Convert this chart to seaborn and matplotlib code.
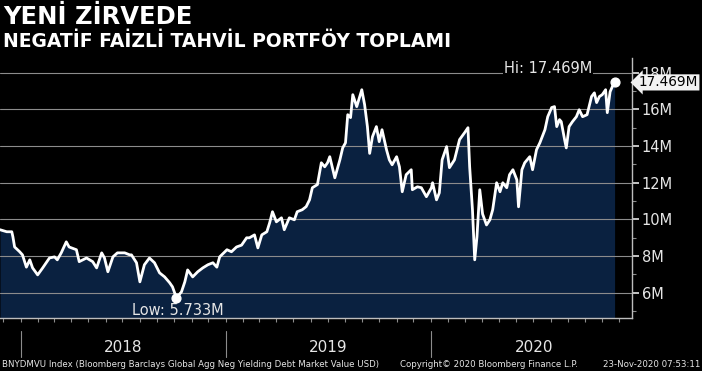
import matplotlib
matplotlib.use("Agg")
import matplotlib.pyplot as plt
import matplotlib.dates as mdates
import matplotlib.transforms as mtransforms
from matplotlib.ticker import FixedLocator, FuncFormatter
import pandas as pd
import seaborn as sns

# values (millions USD)
dates = [
    "2017-11-25", "2017-12-07", "2017-12-16", "2017-12-18", "2017-12-21", "2017-12-30",
    "2018-01-04", "2018-01-11", "2018-01-17", "2018-01-22", "2018-01-31", "2018-02-09",
    "2018-02-21", "2018-03-02", "2018-03-07", "2018-03-14", "2018-03-23", "2018-03-28",
    "2018-04-10", "2018-04-15", "2018-04-28", "2018-05-09", "2018-05-16", "2018-05-25",
    "2018-05-30", "2018-06-05", "2018-06-14", "2018-06-22", "2018-07-05", "2018-07-14",
    "2018-07-17", "2018-07-26", "2018-08-01", "2018-08-09", "2018-08-18", "2018-08-27",
    "2018-09-05", "2018-09-14", "2018-09-23", "2018-09-28", "2018-10-05", "2018-10-14",
    "2018-10-20", "2018-10-25", "2018-11-03", "2018-11-12", "2018-11-21", "2018-11-30",
    "2018-12-09", "2018-12-16", "2018-12-21", "2019-01-03", "2019-01-11", "2019-01-20",
    "2019-01-29", "2019-02-07", "2019-02-12", "2019-02-21", "2019-02-27", "2019-03-06",
    "2019-03-15", "2019-03-20", "2019-03-25", "2019-04-01", "2019-04-10", "2019-04-15",
    "2019-04-24", "2019-05-03", "2019-05-08", "2019-05-17", "2019-05-24", "2019-05-30",
    "2019-06-04", "2019-06-13", "2019-06-20", "2019-06-26", "2019-07-01", "2019-07-05",
    "2019-07-14", "2019-07-23", "2019-07-28", "2019-08-02", "2019-08-06", "2019-08-11",
    "2019-08-15", "2019-08-22", "2019-08-31", "2019-09-05", "2019-09-10", "2019-09-14",
    "2019-09-19", "2019-09-26", "2019-10-01", "2019-10-06", "2019-10-14", "2019-10-19",
    "2019-10-24", "2019-11-01", "2019-11-06", "2019-11-11", "2019-11-18", "2019-11-27",
    "2019-11-29", "2019-12-08", "2019-12-15", "2019-12-24", "2020-01-02", "2020-01-04",
    "2020-01-11", "2020-01-16", "2020-01-21", "2020-01-29", "2020-02-03", "2020-02-12",
    "2020-02-21", "2020-03-01", "2020-03-07", "2020-03-10", "2020-03-15", "2020-03-19",
    "2020-03-23", "2020-03-28", "2020-04-02", "2020-04-09", "2020-04-15", "2020-04-20",
    "2020-04-27", "2020-05-03", "2020-05-08", "2020-05-15", "2020-05-20", "2020-05-26",
    "2020-06-02", "2020-06-05", "2020-06-11", "2020-06-16", "2020-06-25", "2020-06-30",
    "2020-07-07", "2020-07-13", "2020-07-22", "2020-07-27", "2020-08-03", "2020-08-08",
    "2020-08-12", "2020-08-17", "2020-08-20", "2020-08-26", "2020-08-29", "2020-09-03",
    "2020-09-09", "2020-09-16", "2020-09-21", "2020-09-27", "2020-10-05", "2020-10-13",
    "2020-10-18", "2020-10-22", "2020-10-27", "2020-11-01", "2020-11-07", "2020-11-10",
    "2020-11-15", "2020-11-19", "2020-11-23",
]
values = [
    9.44, 9.33, 9.33, 9.05, 8.50, 8.24,
    8.07, 7.40, 7.80, 7.36, 6.98, 7.36,
    7.90, 7.96, 7.80, 8.18, 8.78, 8.50,
    8.35, 7.70, 7.90, 7.70, 7.36, 8.18,
    7.90, 7.15, 7.96, 8.18, 8.18, 8.07,
    8.07, 7.64, 6.60, 7.53, 7.90, 7.64,
    7.09, 6.87, 6.55, 6.33, 5.733, 6.05,
    6.60, 7.25, 6.87, 7.15, 7.36, 7.53,
    7.64, 7.40, 7.96, 8.35, 8.24, 8.50,
    8.60, 9.00, 9.00, 9.16, 8.45, 9.16,
    9.33, 9.82, 10.42, 9.87, 10.09, 9.44,
    10.09, 9.98, 10.42, 10.53, 10.70, 11.07,
    11.73, 11.90, 13.09, 12.87, 13.09, 13.42,
    12.27, 13.25, 13.90, 14.18, 15.71, 15.55,
    16.80, 16.15, 17.07, 16.26, 15.06, 13.60,
    14.51, 15.06, 14.24, 14.89, 13.80, 13.25,
    12.98, 13.42, 12.87, 11.51, 12.44, 12.71,
    11.62, 11.78, 11.73, 11.24, 11.73, 12.00,
    11.07, 11.45, 13.25, 13.97, 12.82, 13.25,
    14.35, 14.73, 15.00, 12.87, 10.53, 7.80,
    9.05, 11.62, 10.30, 9.70, 9.98, 10.53,
    12.00, 11.51, 12.00, 11.73, 12.44, 12.71,
    12.16, 10.69, 12.71, 13.09, 13.42, 12.71,
    13.80, 14.18, 14.89, 15.60, 16.10, 16.15,
    15.06, 15.44, 15.33, 14.35, 13.90, 15.06,
    15.33, 15.60, 15.98, 15.60, 15.71, 16.70,
    16.90, 16.37, 16.70, 16.80, 17.07, 15.82,
    16.96, 17.24, 17.469,
]
years = ["2018", "2019", "2020"]
year_starts = ["2018-01-01", "2019-01-01", "2020-01-01"]
year_mids = ["2018-07-02", "2019-07-02", "2020-07-02"]
y_ticks = [6, 8, 10, 12, 14, 16, 18]

title = "YENİ ZİRVEDE"
subtitle = "NEGATİF FAİZLİ TAHVİL PORTFÖY TOPLAMI"
footer_left = "BNYDMVU Index (Bloomberg Barclays Global Agg Neg Yielding Debt Market Value USD)"
footer_mid = "Copyright© 2020 Bloomberg Finance L.P."
footer_right = "23-Nov-2020 07:53:11"

navy = "#0a2140"
light = "#e6e6e6"
grid_c = "#8c8c8c"

sns.set_theme(style="dark", rc={
    "figure.facecolor": "black",
    "axes.facecolor": "black",
    "text.color": light,
    "axes.labelcolor": light,
    "xtick.color": grid_c,
    "ytick.color": light,
})
plt.rcParams["font.family"] = ["DejaVu Sans"]

df = pd.DataFrame({"date": pd.to_datetime(dates), "value": values})
ymin, ymax = 4.63, 18.8

fig = plt.figure(figsize=(7.02, 3.71), dpi=100)
ax = fig.add_axes([0.0, 0.1429, 0.9003, 0.7008])

ax.fill_between(df["date"], df["value"], ymin, color=navy, lw=0, zorder=1)
sns.lineplot(data=df, x="date", y="value", color="white", lw=2.0, ax=ax, zorder=3)

ax.set_xlim(pd.Timestamp("2017-11-25"), pd.Timestamp("2020-12-24"))
ax.set_ylim(ymin, ymax)
ax.set_xlabel("")
ax.set_ylabel("")

# y axis on the right
ax.yaxis.tick_right()
ax.yaxis.set_major_locator(FixedLocator(y_ticks))
ax.yaxis.set_minor_locator(FixedLocator([5, 7, 9, 11, 13, 15, 17]))
ax.yaxis.set_major_formatter(FuncFormatter(lambda v, p: f"{v:.0f}M"))
ax.tick_params(axis="y", which="major", direction="out", length=5, width=1.2,
               color=light, labelsize=10.5, pad=2, right=True, left=False)
ax.tick_params(axis="y", which="minor", direction="out", length=3, width=0.8,
               color=grid_c, right=True, left=False)
ax.set_axisbelow("line")
ax.yaxis.grid(True, which="major", color=grid_c, lw=0.8)
ax.xaxis.grid(False)

# monthly ticks at the bottom, no labels
ax.xaxis.set_major_locator(mdates.MonthLocator())
ax.xaxis.set_major_formatter(FuncFormatter(lambda v, p: ""))
ax.tick_params(axis="x", which="major", direction="out", length=3, width=0.8,
               color=grid_c, bottom=True)

for side in ["left", "top"]:
    ax.spines[side].set_visible(False)
for side in ["right", "bottom"]:
    ax.spines[side].set_visible(True)
    ax.spines[side].set_color("#bdbdbd")
    ax.spines[side].set_linewidth(1.0)

# year bands under the axis
trans = mtransforms.blended_transform_factory(ax.transData, ax.transAxes)
for ys in year_starts:
    xd = pd.Timestamp(ys)
    ax.plot([xd, xd], [-0.05, -0.15], color=grid_c, lw=0.8, transform=trans, clip_on=False)
for yl, ym in zip(years, year_mids):
    ax.text(pd.Timestamp(ym), -0.115, yl, transform=trans, ha="center", va="center",
            fontsize=11, color=light)

# high / low markers
hi_i = df["value"].idxmax()
lo_i = df["value"].idxmin()
hi_d, hi_v = df.loc[hi_i, "date"], df.loc[hi_i, "value"]
lo_d, lo_v = df.loc[lo_i, "date"], df.loc[lo_i, "value"]
ax.scatter([hi_d, lo_d], [hi_v, lo_v], s=40, color="white", zorder=4)
ax.annotate(f"Hi: {hi_v:.3f}M", xy=(hi_d, hi_v), xytext=(-16, 10), textcoords="offset points",
            ha="right", va="center", fontsize=10.5, color=light,
            bbox=dict(boxstyle="square,pad=0.05", fc="black", ec="none"))
ax.annotate(f"Low: {lo_v:.3f}M", xy=(lo_d, lo_v), xytext=(-32, -9), textcoords="offset points",
            ha="left", va="center", fontsize=10.5, color=light)

# last value tag on the right axis
ax.annotate(f"{values[-1]:.3f}M", xy=(1, values[-1]), xycoords=("axes fraction", "data"),
            xytext=(5, 0), textcoords="offset points", ha="left", va="center",
            fontsize=9.8, color="black", zorder=10,
            bbox=dict(boxstyle="larrow,pad=0.08", fc="#f2f2f2", ec="none"))

# titles
fig.text(0.004, 0.953, title, fontsize=17.5, fontweight="bold", color="white", va="center")
fig.text(0.004, 0.889, subtitle, fontsize=13.5, fontweight="bold", color="white", va="center")

# footer
fig.text(0.003, 0.018, footer_left, fontsize=6.2, color=light, va="center")
fig.text(0.57, 0.018, footer_mid, fontsize=6.2, color=light, va="center")
fig.text(0.997, 0.018, footer_right, fontsize=6.2, color=light, va="center", ha="right")

fig.savefig("out.png", dpi=100, facecolor="black")
